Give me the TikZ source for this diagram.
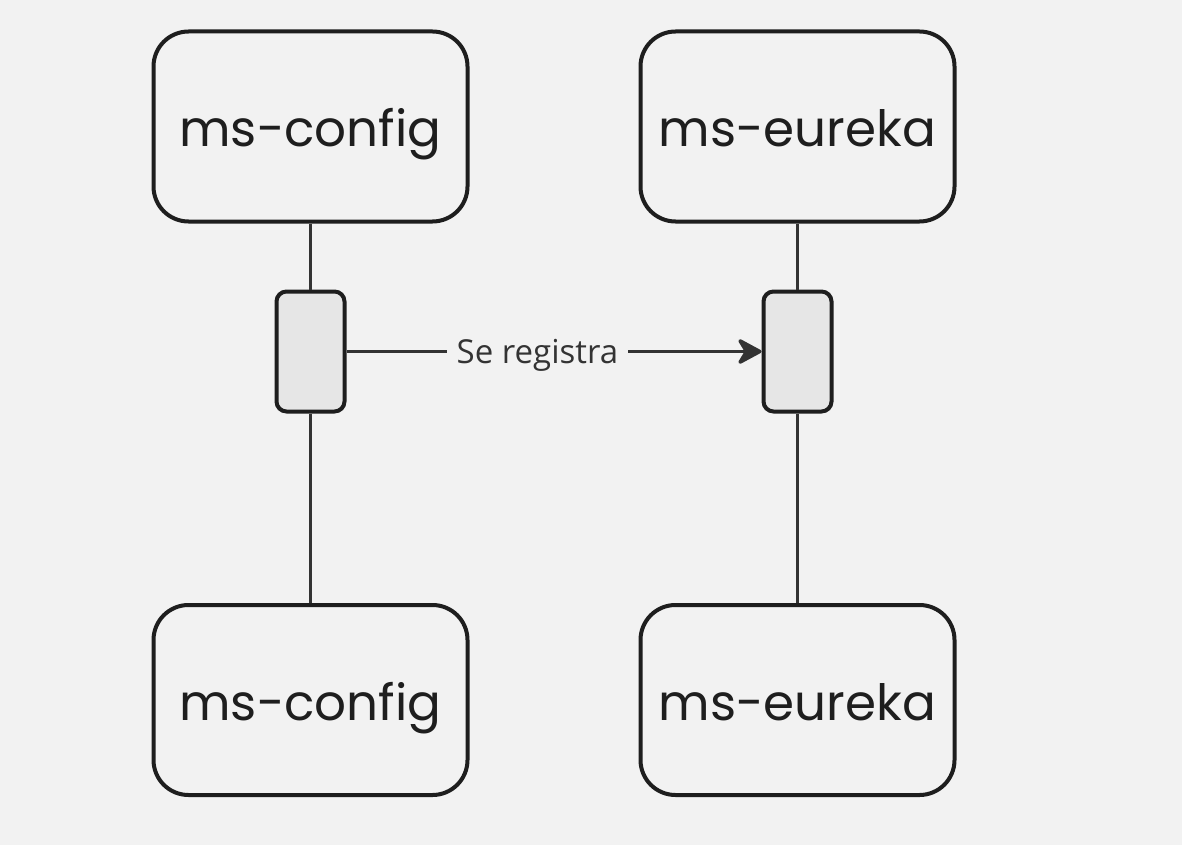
\documentclass[tikz,border=0pt]{standalone}
\usepackage{fontspec}
\setmainfont{Open Sans}
\newfontfamily\boxfont{Poppins}
\usetikzlibrary{arrows.meta}
\usetikzlibrary{positioning}
\definecolor{bg}{HTML}{F2F2F2}
\definecolor{ink}{HTML}{1E1E1E}
\definecolor{lineink}{HTML}{333333}
\definecolor{actfill}{HTML}{E6E6E6}
\tikzset{service/.style = {draw=ink, line width=4pt, rounded corners=35pt,
                           minimum width=314pt, minimum height=190pt,
                           fill=bg, text=ink, text height=40pt, text depth=0pt,
                           font=\boxfont\fontsize{50}{60}\selectfont},
         activation/.style = {draw=ink, line width=4pt, rounded corners=10pt,
                              minimum width=68pt, minimum height=120pt,
                              fill=actfill},
         lifeline/.style = {draw=lineink, line width=3pt},
         message/.style = {draw=lineink, line width=3.5pt,
                           -{Stealth[length=28pt, width=30pt, round]}},
         msglabel/.style = {fill=bg, text=lineink, inner xsep=10pt,
                            text height=23pt, text depth=0pt,
                            font=\fontsize{33}{38}\selectfont}}

\begin{document}
\begin{tikzpicture}[x=1pt, y=-1pt]
    \fill [bg] (0, 0) rectangle (1182, 845);
    \node [service] (configtop) at (310.5, 126.5) {ms-config};
    \node [service] (eurekatop) at (797.5, 126.5) {ms-eureka};
    \node [service] (configbot) at (310.5, 700) {ms-config};
    \node [service] (eurekabot) at (797.5, 700) {ms-eureka};
    \node [activation] (configact) at (310.5, 351.5) {};
    \node [activation] (eurekaact) at (797.5, 351.5) {};
    \draw [lifeline] (configtop) -- (configact);
    \draw [lifeline] (configact) -- (configbot);
    \draw [lifeline] (eurekatop) -- (eurekaact);
    \draw [lifeline] (eurekaact) -- (eurekabot);
    \draw [message] (configact) -- (eurekaact)
        node [msglabel, pos=0.46] (registra) {Se registra};
  \end{tikzpicture}
\end{document}
